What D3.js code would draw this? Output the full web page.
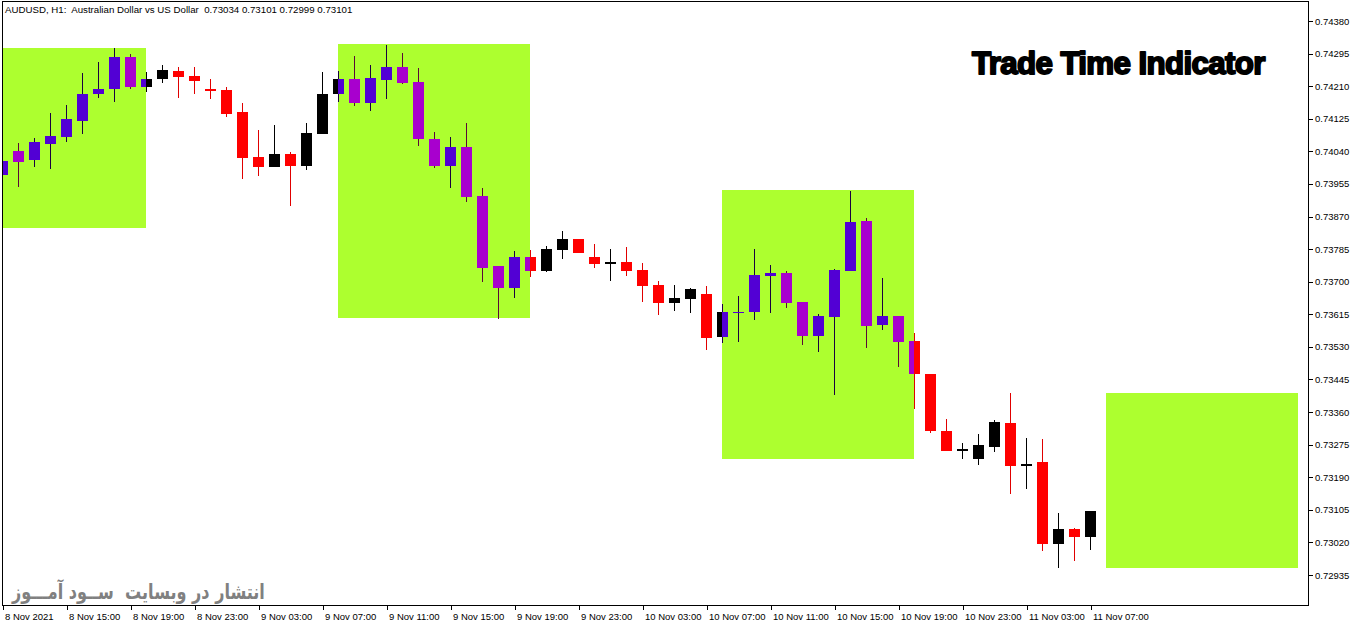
<!DOCTYPE html>
<html><head><meta charset="utf-8">
<script src="https://cdn.jsdelivr.net/npm/d3@7"></script>
<style>
html,body{margin:0;padding:0;background:#fff;}
svg{display:block;}
</style></head>
<body>
<svg id="c" width="1362" height="628"></svg>
<script>
// ---- data ----
const firstBar = "2021-11-08T11:00:00Z";
const lastBar  = "2021-11-11T07:00:00Z";
const open  = [0.73979,0.74041,0.74017,0.74060,0.74078,0.74120,0.74189,0.74203,0.74285,0.74209,
               0.74228,0.74250,0.74237,0.74203,0.74200,0.74143,0.74026,0.74000,0.74033,0.74002,
               0.74085,0.74189,0.74229,0.74167,0.74227,0.74260,0.74222,0.74072,0.74002,0.74051,
               0.73924,0.73740,0.73684,0.73764,0.73729,0.73784,0.73811,0.73764,0.73751,0.73752,
               0.73731,0.73691,0.73645,0.73656,0.73668,0.73557,0.73621,0.73622,0.73716,0.73723,
               0.73647,0.73559,0.73609,0.73729,0.73858,0.73588,0.73611,0.73545,0.73459,0.73311,
               0.73263,0.73238,0.73270,0.73332,0.73224,0.73230,0.73017,0.73055,0.73034];
const high  = [0.74028,0.74062,0.74075,0.74140,0.74161,0.74244,0.74273,0.74310,0.74294,0.74247,
               0.74265,0.74260,0.74260,0.74229,0.74207,0.74167,0.74096,0.74109,0.74038,0.74115,
               0.74248,0.74250,0.74289,0.74265,0.74317,0.74297,0.74257,0.74091,0.74077,0.74115,
               0.73944,0.73740,0.73780,0.73783,0.73793,0.73832,0.73812,0.73798,0.73785,0.73791,
               0.73750,0.73702,0.73691,0.73684,0.73689,0.73642,0.73663,0.73785,0.73744,0.73728,
               0.73647,0.73616,0.73732,0.73937,0.73866,0.73710,0.73611,0.73567,0.73459,0.73343,
               0.73279,0.73303,0.73339,0.73410,0.73292,0.73291,0.73097,0.73058,0.73101];
const low   = [0.73965,0.73948,0.74000,0.73994,0.74065,0.74085,0.74179,0.74169,0.74203,0.74195,
               0.74218,0.74180,0.74190,0.74177,0.74130,0.73967,0.73976,0.73999,0.73898,0.73991,
               0.74085,0.74170,0.74157,0.74146,0.74177,0.74215,0.74055,0.73997,0.73945,0.73908,
               0.73699,0.73604,0.73658,0.73711,0.73726,0.73760,0.73775,0.73736,0.73703,0.73716,
               0.73647,0.73614,0.73624,0.73619,0.73522,0.73541,0.73543,0.73601,0.73619,0.73632,
               0.73536,0.73517,0.73405,0.73729,0.73528,0.73575,0.73478,0.73369,0.73306,0.73259,
               0.73237,0.73223,0.73257,0.73146,0.73160,0.72998,0.72952,0.72972,0.72999];
const close = [0.74016,0.74012,0.74064,0.74080,0.74124,0.74190,0.74203,0.74285,0.74209,0.74228,
               0.74252,0.74235,0.74224,0.74198,0.74138,0.74023,0.73999,0.74033,0.74003,0.74088,
               0.74190,0.74229,0.74167,0.74231,0.74260,0.74218,0.74072,0.74002,0.74051,0.73922,
               0.73736,0.73684,0.73764,0.73729,0.73785,0.73811,0.73776,0.73747,0.73751,0.73729,
               0.73690,0.73645,0.73658,0.73682,0.73554,0.73621,0.73621,0.73718,0.73723,0.73645,
               0.73559,0.73611,0.73731,0.73856,0.73585,0.73611,0.73544,0.73458,0.73311,0.73259,
               0.73263,0.73273,0.73334,0.73220,0.73224,0.73017,0.73055,0.73033,0.73101];

const sessionStart = ["2021-11-08T08:00:00Z","2021-11-09T08:00:00Z","2021-11-10T08:00:00Z","2021-11-11T08:00:00Z"];
const sessionEnd   = ["2021-11-08T20:00:00Z","2021-11-09T20:00:00Z","2021-11-10T20:00:00Z","2021-11-11T20:00:00Z"];
const sessionHigh  = [0.74310,0.74320,0.73939,0.73410];
const sessionLow   = [0.73840,0.73605,0.73238,0.72953];

const yTicks = [0.74380,0.74295,0.74210,0.74125,0.74040,0.73955,0.73870,0.73785,0.73700,
                0.73615,0.73530,0.73445,0.73360,0.73275,0.73190,0.73105,0.73020,0.72935];
const xTickTimes = ["2021-11-08T11:00:00Z","2021-11-08T15:00:00Z","2021-11-08T19:00:00Z","2021-11-08T23:00:00Z",
                    "2021-11-09T03:00:00Z","2021-11-09T07:00:00Z","2021-11-09T11:00:00Z","2021-11-09T15:00:00Z",
                    "2021-11-09T19:00:00Z","2021-11-09T23:00:00Z","2021-11-10T03:00:00Z","2021-11-10T07:00:00Z",
                    "2021-11-10T11:00:00Z","2021-11-10T15:00:00Z","2021-11-10T19:00:00Z","2021-11-10T23:00:00Z",
                    "2021-11-11T03:00:00Z","2021-11-11T07:00:00Z"];
const xTickLabels = ["8 Nov 2021","8 Nov 15:00","8 Nov 19:00","8 Nov 23:00","9 Nov 03:00","9 Nov 07:00",
                     "9 Nov 11:00","9 Nov 15:00","9 Nov 19:00","9 Nov 23:00","10 Nov 03:00","10 Nov 07:00",
                     "10 Nov 11:00","10 Nov 15:00","10 Nov 19:00","10 Nov 23:00","11 Nov 03:00","11 Nov 07:00"];
const headerText = "AUDUSD, H1:  Australian Dollar vs US Dollar  0.73034 0.73101 0.72999 0.73101";
const titleText = "Trade Time Indicator";
const watermarkText = "انتشار در وبسایت  ســود آمـــوز";

// ---- layout ----
const svg = d3.select("#c");
const frame = {l:2.5, t:1.5, r:1308.5, b:605.5};
const FONT = "'Liberation Sans', Arial, sans-serif";

const times = d3.utcHour.range(new Date(firstBar), d3.utcHour.offset(new Date(lastBar), 1));
const bars = times.map((t,i)=>({t, o:open[i], h:high[i], l:low[i], c:close[i]}));

const x = d3.scaleUtc().domain([new Date(firstBar), new Date(lastBar)]).range([2.5, 1090.5]);
const y = d3.scaleLinear().domain([0.72935, 0.74380]).range([575, 21]);

const defs = svg.append("defs");
defs.append("clipPath").attr("id","plot").append("rect")
  .attr("x",frame.l+0.5).attr("y",frame.t+0.5)
  .attr("width",frame.r-frame.l-1).attr("height",frame.b-frame.t-1);

const plot = svg.append("g").attr("clip-path","url(#plot)");

const sessions = sessionStart.map((s,i)=>({s:new Date(s), e:new Date(sessionEnd[i]), h:sessionHigh[i], l:sessionLow[i]}));

// session boxes
plot.selectAll("rect.sess").data(sessions).join("rect").attr("class","sess")
  .attr("x",d=>x(d.s)-0.5).attr("width",d=>x(d.e)-x(d.s))
  .attr("y",d=>y(d.h)).attr("height",d=>y(d.l)-y(d.h))
  .attr("fill","#ADFF2F").attr("shape-rendering","crispEdges");

function drawCandles(g, data, bullCol, bearCol, bullWick, bearWick){
  const c = g.selectAll("g.cd").data(data).join("g").attr("class","cd");
  c.append("rect")
    .attr("x",d=>x(d.t)-0.5).attr("width",1)
    .attr("y",d=>y(d.h)).attr("height",d=>Math.max(1,y(d.l)-y(d.h)))
    .attr("fill",d=>d.c>=d.o?bullWick:bearWick).attr("shape-rendering","crispEdges");
  c.append("rect")
    .attr("x",d=>x(d.t)-5.5).attr("width",11)
    .attr("y",d=>y(Math.max(d.o,d.c)))
    .attr("height",d=>Math.max(1.5,Math.abs(y(d.o)-y(d.c))))
    .attr("fill",d=>d.c>=d.o?bullCol:bearCol).attr("shape-rendering","crispEdges");
}

// base candles
drawCandles(plot.append("g"), bars, "#000000", "#FF0000", "#000000", "#E00000");

// session-coloured candles
sessions.forEach((s,i)=>{
  const id = "sc"+i;
  defs.append("clipPath").attr("id",id).append("rect")
    .attr("x",x(s.s)-0.5).attr("y",0).attr("width",x(s.e)-x(s.s)).attr("height",628);
  const inside = bars.filter(b=>x(b.t)+6>x(s.s) && x(b.t)-6<x(s.e));
  if(inside.length){
    const g = plot.append("g").attr("clip-path","url(#plot)").append("g").attr("clip-path","url(#"+id+")");
    drawCandles(g, inside, "#5200D4", "#A800CE", "#1a0040", "#5a0838");
  }
});

// frame
svg.append("rect").attr("x",frame.l).attr("y",frame.t)
  .attr("width",frame.r-frame.l).attr("height",frame.b-frame.t)
  .attr("fill","none").attr("stroke","#000").attr("stroke-width",1).attr("shape-rendering","crispEdges");

// y axis
const ya = svg.append("g").attr("transform",`translate(${frame.r+0.5},0)`)
  .call(d3.axisRight(y).tickValues(yTicks).tickFormat(d3.format(".5f")).tickSize(4).tickPadding(2));
ya.select(".domain").remove();
ya.selectAll("text").attr("font-family",FONT).attr("font-size","9.5px").attr("fill","#000");
ya.selectAll("line").attr("stroke","#000").attr("shape-rendering","crispEdges");

// x axis
const xa = svg.append("g").attr("transform",`translate(0,${frame.b+0.5})`)
  .call(d3.axisBottom(x).tickValues(xTickTimes.map(d=>new Date(d))).tickFormat((d,i)=>xTickLabels[i]).tickSize(4));
xa.select(".domain").remove();
xa.selectAll("line").attr("stroke","#000").attr("shape-rendering","crispEdges");
xa.selectAll("text").attr("font-family",FONT).attr("font-size","9.5px").attr("fill","#000")
  .attr("text-anchor","start").attr("x",2).attr("y",14).attr("dy",null);

// header
svg.append("text").attr("x",5).attr("y",13).attr("font-family",FONT).attr("font-size","9.7px")
  .attr("fill","#000").style("white-space","pre").text(headerText);

// title
const tt = svg.append("text").attr("x",972).attr("y",74).attr("font-family",FONT).attr("font-weight","bold")
  .attr("font-size","30px").attr("fill","#000").attr("stroke","#000").attr("stroke-width",1.8)
  .attr("stroke-linejoin","round").attr("letter-spacing","-0.6")
  .text(titleText);
const tl = tt.node().getComputedTextLength();
if (tl>0) tt.attr("transform",`translate(972,74) scale(${(293/tl).toFixed(4)},1.04) translate(-972,-74)`);

// watermark
const wm = svg.append("text").attr("x",12).attr("y",0).attr("font-family","'DejaVu Sans', sans-serif")
  .attr("font-weight","bold").attr("font-size","18px").attr("fill","#808080")
  .style("white-space","pre").text(watermarkText);
const wl = wm.node().getComputedTextLength();
const fs = wl>0 ? 18*253/wl : 18;
wm.attr("font-size", fs.toFixed(2)+"px").attr("transform","translate(0,599) scale(1,1.3)");
</script>
</body></html>
